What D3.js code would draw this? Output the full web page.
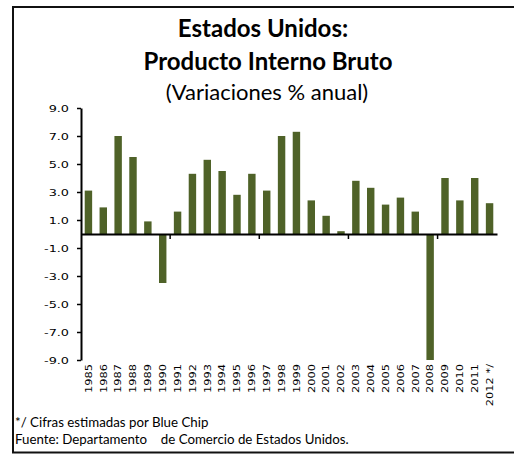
<!DOCTYPE html>
<html>
<head>
<meta charset="utf-8">
<script src="https://cdn.jsdelivr.net/npm/d3@7"></script>
<style>
  html, body { margin: 0; padding: 0; background: #fff; }
  svg { display: block; }
  .tickfont { font-family: "DejaVu Sans", Verdana, sans-serif; }
  .lato { font-family: Lato, "Open Sans", sans-serif; }
</style>
</head>
<body>
<svg id="chart" width="514" height="454"></svg>
<script>
const years = ["1985","1986","1987","1988","1989","1990","1991","1992","1993","1994",
  "1995","1996","1997","1998","1999","2000","2001","2002","2003","2004",
  "2005","2006","2007","2008","2009","2010","2011","2012 */"];
const gdpGrowth = [3.1, 1.9, 7.0, 5.5, 0.9, -3.5, 1.6, 4.3, 5.3, 4.5,
  2.8, 4.3, 3.1, 7.0, 7.3, 2.4, 1.3, 0.2, 3.8, 3.3,
  2.1, 2.6, 1.6, -9.0, 4.0, 2.4, 4.0, 2.2];
const yTicks = [9, 7, 5, 3, 1, -1, -3, -5, -7, -9];
const titleLines = ["Estados Unidos:", "Producto Interno Bruto"];
const subtitle = "(Variaciones % anual)";
const notes = ["*/ Cifras estimadas por Blue Chip",
  "Fuente: Departamento    de Comercio de Estados Unidos."];

const svg = d3.select("#chart");

// frame
svg.append("path")
  .attr("d", "M520,7 H13 V452.5 H520")
  .attr("fill", "none").attr("stroke", "#111").attr("stroke-width", 2);

// titles
svg.append("text").attr("class", "lato").attr("x", 263).attr("y", 37).attr("text-anchor", "middle")
  .attr("font-weight", "bold").attr("font-size", 24)
  .attr("fill", "#000").text(titleLines[0]);
svg.append("text").attr("class", "lato").attr("x", 268).attr("y", 70).attr("text-anchor", "middle")
  .attr("font-weight", "bold").attr("font-size", 24)
  .attr("fill", "#000").text(titleLines[1]);
svg.append("text").attr("class", "lato").attr("x", 267).attr("y", 100).attr("text-anchor", "middle")
  .attr("font-size", 22)
  .attr("fill", "#000").text(subtitle);

// scales
const x = d3.scaleBand().domain(years).range([81, 497])
  .paddingInner(0.5).paddingOuter(0.25);
const y = d3.scaleLinear().domain([-9, 9]).range([360, 108]);

// y axis
const yAxis = svg.append("g").attr("transform", "translate(81,0)")
  .call(d3.axisLeft(y).tickValues(yTicks).tickSize(4).tickSizeOuter(0)
    .tickFormat(d => d.toFixed(1)));
yAxis.attr("font-family", null).attr("font-size", null);
yAxis.select(".domain").attr("stroke", "#000").attr("stroke-width", 2);
yAxis.selectAll(".tick line").attr("stroke", "#000").attr("stroke-width", 1.5);
yAxis.selectAll(".tick text")
  .attr("class", "tickfont")
  .attr("x", null).attr("dy", "0.35em")
  .attr("transform", "translate(-12,0) scale(1.35,1)")
  .attr("font-size", 9.5).attr("fill", "#000");

// bars
svg.append("g").selectAll("rect").data(years).join("rect")
  .attr("x", d => x(d))
  .attr("width", x.bandwidth())
  .attr("y", (d, i) => y(Math.max(0, gdpGrowth[i])))
  .attr("height", (d, i) => Math.abs(y(gdpGrowth[i]) - y(0)))
  .attr("fill", "#4f6228");

// zero axis line
const xAxis = svg.append("g").attr("transform", `translate(0,${y(0)})`)
  .call(d3.axisBottom(x).tickValues([]).tickSizeOuter(0));
xAxis.select(".domain").attr("stroke", "#000").attr("stroke-width", 2);

// boundary tick marks every 6 categories
const boundaries = [6, 12, 18, 24].map(i => x(years[i]) - x.step() * x.paddingInner() / 2);
svg.append("g").selectAll("line").data(boundaries).join("line")
  .attr("x1", d => d).attr("x2", d => d)
  .attr("y1", y(0)).attr("y2", y(0) + 5)
  .attr("stroke", "#000").attr("stroke-width", 1.5);

// category labels
svg.append("g").selectAll("text").data(years).join("text")
  .attr("class", "tickfont")
  .attr("transform", d => `translate(${x(d) + x.bandwidth() / 2},364) rotate(-90) scale(1.2,1)`)
  .attr("dy", "0.35em").attr("text-anchor", "end")
  .attr("font-size", 9.5).attr("fill", "#000")
  .text(d => d);

// notes
svg.append("g").selectAll("text").data(notes).join("text")
  .attr("class", "lato")
  .attr("x", 15).attr("y", (d, i) => 427 + i * 17)
  .attr("xml:space", "preserve").style("white-space", "pre")
  .attr("font-size", 13.3).attr("fill", "#000")
  .text(d => d);
</script>
</body>
</html>
